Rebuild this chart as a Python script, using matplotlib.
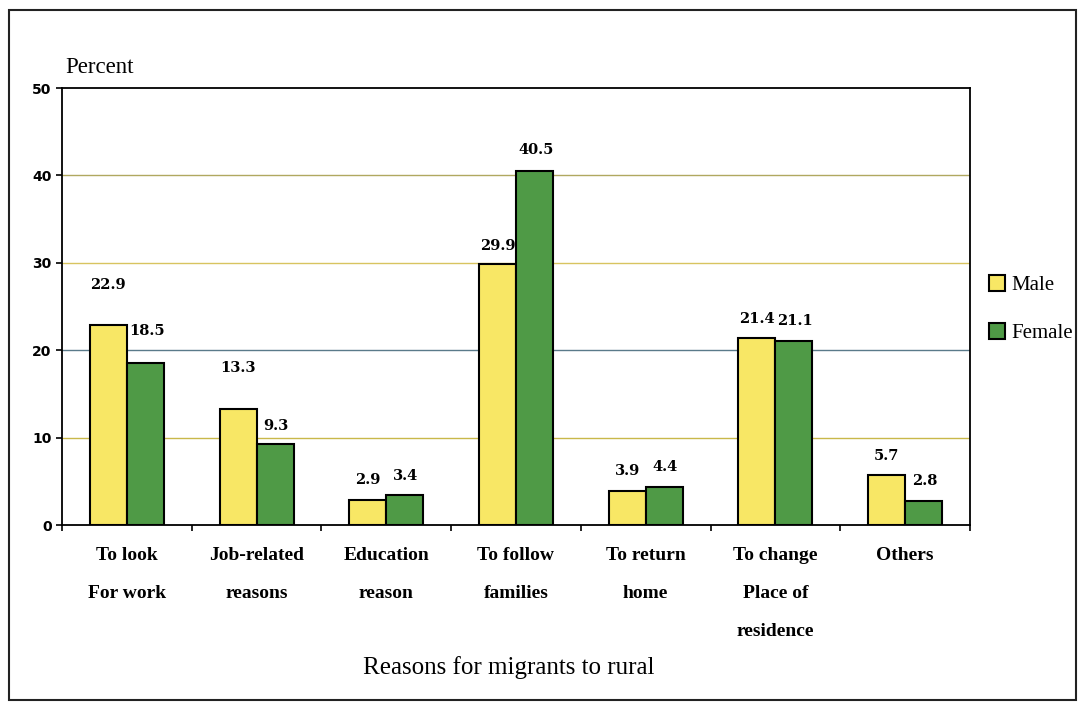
import matplotlib.pyplot as plt
import numpy as np
from matplotlib.patches import Rectangle

categories = ['To look\nFor work', 'Job-related\nreasons', 'Education\nreason',
              'To follow\nfamilies', 'To return\nhome', 'To change\nPlace of\nresidence',
              'Others']
male = [22.9, 13.3, 2.9, 29.9, 3.9, 21.4, 5.7]
female = [18.5, 9.3, 3.4, 40.5, 4.4, 21.1, 2.8]
yticks = [0, 10, 20, 30, 40, 50]

# label offsets above bars (points), as in the scan
male_off = [24, 24, 9, 8, 9, 9, 9]
female_off = [18, 8, 9, 10, 9, 9, 9]

plt.rcParams['font.family'] = ['Liberation Serif', 'DejaVu Serif']

fig = plt.figure(figsize=(10.78, 7.07), dpi=100)
ax = fig.add_axes([0.0575, 0.2574, 0.8423, 0.618])

x = np.arange(len(categories))
w = 0.285
yellow = '#f8e765'
green = '#4f9a46'

for y, c in zip([10, 20, 30, 40], ['#c9b84a', '#5a7a8a', '#d8c460', '#b0a860']):
    ax.axhline(y, color=c, lw=1.0, zorder=0)

bm = ax.bar(x - w / 2, male, w, color=yellow, edgecolor='black', lw=1.5, label='Male', zorder=2)
bf = ax.bar(x + w / 2, female, w, color=green, edgecolor='black', lw=1.5, label='Female', zorder=2)

for xi, v, o in zip(x - w / 2, male, male_off):
    ax.annotate(f'{v:.1f}', (xi, v), xytext=(0, o), textcoords='offset points',
                ha='center', va='bottom', fontsize=10.5, fontweight='bold',
                family=['DejaVu Serif'])
for xi, v, o in zip(x + w / 2, female, female_off):
    ax.annotate(f'{v:.1f}', (xi + 0.01, v), xytext=(0, o), textcoords='offset points',
                ha='center', va='bottom', fontsize=10.5, fontweight='bold',
                family=['DejaVu Serif'])

ax.set_xlim(-0.5, len(categories) - 0.5)
ax.set_ylim(0, 50)
ax.set_yticks(yticks)
ax.set_yticklabels([str(t) for t in yticks], fontsize=10, fontweight='bold',
                   family=['DejaVu Sans'])
ax.set_xticks(np.arange(len(categories) + 1) - 0.5)
ax.set_xticklabels([])
ax.tick_params(axis='both', direction='out', length=4, width=1.2, color='black')
ax.set_xticks(x, minor=True)
ax.set_xticklabels(categories, minor=True, fontsize=14, fontweight='bold',
                   linespacing=2.6, va='top')
ax.tick_params(axis='x', which='minor', length=0, pad=16)
for s in ax.spines.values():
    s.set_linewidth(1.3)
    s.set_color('black')

ax.text(0.004, 1.022, 'Percent', transform=ax.transAxes, fontsize=16.5, ha='left', va='bottom')
fig.text(0.472, 0.04, 'Reasons for migrants to rural', fontsize=18, ha='center', va='bottom')

fig.legend(handles=[bm, bf], loc='upper left', bbox_to_anchor=(0.9, 0.637),
           frameon=False, fontsize=15, handlelength=0.75, handleheight=0.75,
           handletextpad=0.35, labelspacing=1.35)

fig.patches.append(Rectangle((0.008, 0.01), 0.99, 0.976, transform=fig.transFigure,
                             fill=False, edgecolor='#222222', lw=1.5))

fig.savefig('out.png', dpi=100)
